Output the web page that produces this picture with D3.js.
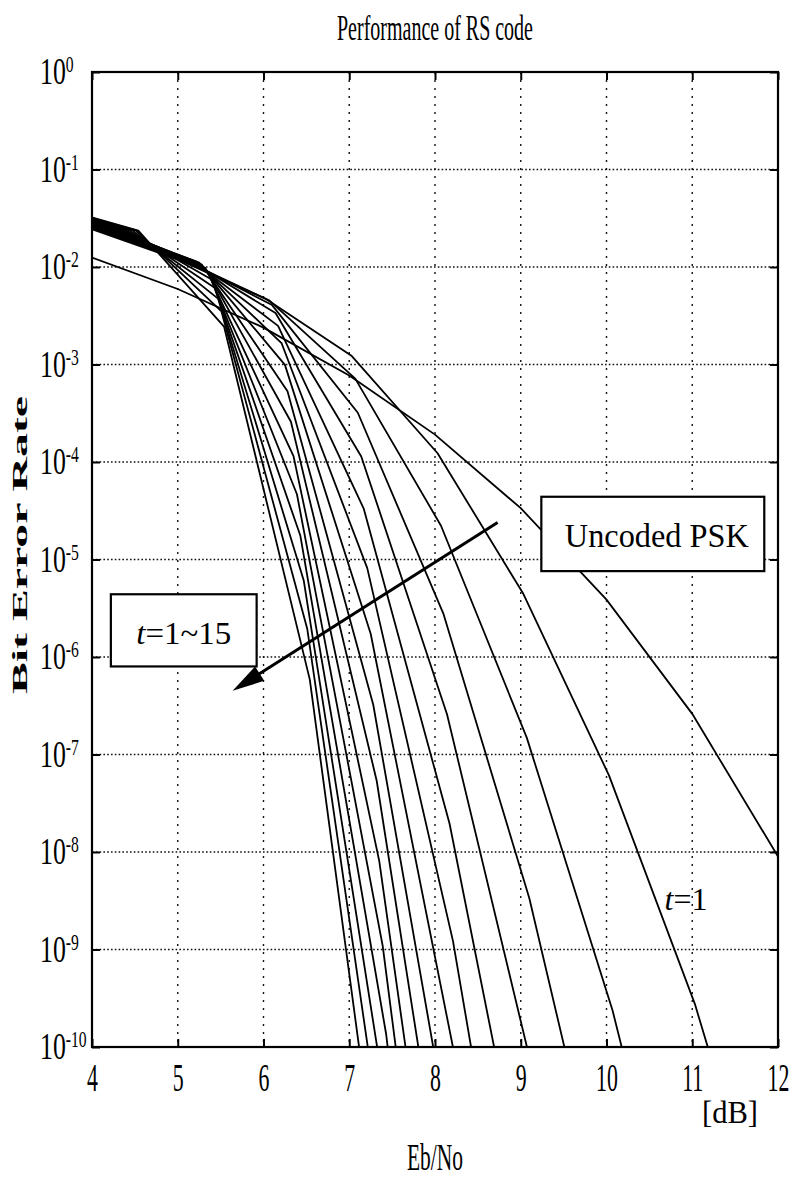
<!DOCTYPE html>
<html><head><meta charset="utf-8">
<script src="https://cdn.jsdelivr.net/npm/d3@7"></script>
<style>body{margin:0;background:#fff}</style>
</head><body>
<svg id="chart" width="793" height="1177"></svg>
<script>
// ---- data ----
const xTickValues = [4, 5, 6, 7, 8, 9, 10, 11, 12];
const yTickExponents = [0, -1, -2, -3, -4, -5, -6, -7, -8, -9, -10];

const uncodedEbNo = [4, 5, 6, 7, 8, 9, 10, 11, 12];
const uncodedBer  = [1.25e-2, 5.95e-3, 2.39e-3, 7.73e-4, 1.91e-4, 3.36e-5, 3.87e-6, 2.61e-7, 9.0e-9];

const rsT = [1, 2, 3, 4, 5, 6, 7, 8, 9, 10, 11, 12, 13, 14, 15];
const rsEbNo = [
  [3.03, 4.03, 5.03, 6.03, 7.03, 8.03, 9.03, 10.03, 11.03, 12.03],
  [3.07, 4.07, 5.07, 6.07, 7.07, 8.07, 9.07, 10.07, 11.07],
  [3.10, 4.10, 5.10, 6.10, 7.10, 8.10, 9.10, 10.10],
  [3.14, 4.14, 5.14, 6.14, 7.14, 8.14, 9.14],
  [3.17, 4.17, 5.17, 6.17, 7.17, 8.17, 9.17],
  [3.21, 4.21, 5.21, 6.21, 7.21, 8.21, 9.21],
  [3.25, 4.25, 5.25, 6.25, 7.25, 8.25],
  [3.28, 4.28, 5.28, 6.28, 7.28, 8.28],
  [3.32, 4.32, 5.32, 6.32, 7.32, 8.32],
  [3.35, 4.35, 5.35, 6.35, 7.35, 8.35],
  [3.39, 4.39, 5.39, 6.39, 7.39, 8.39],
  [3.43, 4.43, 5.43, 6.43, 7.43, 8.43],
  [3.47, 4.47, 5.47, 6.47, 7.47],
  [3.51, 4.51, 5.51, 6.51, 7.51],
  [3.54, 4.54, 5.54, 6.54, 7.54]
];
const rsBer = [
  [4.20e-2, 2.39e-2, 1.17e-2, 4.70e-3, 1.22e-3, 1.23e-4, 4.45e-6, 6.07e-8, 2.77e-10, 3.29e-13],
  [4.20e-2, 2.39e-2, 1.17e-2, 4.52e-3, 7.16e-4, 2.22e-5, 1.49e-7, 2.38e-10, 7.33e-14],
  [4.20e-2, 2.39e-2, 1.17e-2, 4.07e-3, 3.20e-4, 2.75e-6, 3.36e-9, 6.18e-13],
  [4.20e-2, 2.39e-2, 1.16e-2, 3.37e-3, 1.14e-4, 2.59e-7, 5.65e-11],
  [4.20e-2, 2.39e-2, 1.16e-2, 2.49e-3, 3.30e-5, 1.95e-8, 7.59e-13],
  [4.20e-2, 2.39e-2, 1.14e-2, 1.66e-3, 8.15e-6, 1.22e-9, 8.45e-15],
  [4.20e-2, 2.39e-2, 1.11e-2, 9.91e-4, 1.73e-6, 6.59e-11],
  [4.20e-2, 2.39e-2, 1.06e-2, 5.32e-4, 3.24e-7, 3.09e-12],
  [4.20e-2, 2.39e-2, 9.82e-3, 2.59e-4, 5.38e-8, 1.29e-13],
  [4.20e-2, 2.39e-2, 8.75e-3, 1.15e-4, 8.05e-9, 4.80e-15],
  [4.20e-2, 2.39e-2, 7.48e-3, 4.67e-5, 1.09e-9, 1.62e-16],
  [4.20e-2, 2.39e-2, 6.11e-3, 1.75e-5, 1.36e-10, 5.00e-18],
  [4.20e-2, 2.39e-2, 4.74e-3, 6.05e-6, 1.55e-11],
  [4.20e-2, 2.38e-2, 3.50e-3, 1.95e-6, 1.64e-12],
  [4.20e-2, 2.36e-2, 2.45e-3, 5.86e-7, 1.62e-13]
];

// annotation anchors in data coordinates
const arrowFrom = [8.73, 2.4e-5];
const arrowTo   = [5.64, 4.5e-7];
const uncodedBox = {x0: 9.24, x1: 11.84, y0: 4.4e-5, y1: 7.6e-6};
const tRangeBox  = {x0: 4.22, x1: 5.92, y0: 4.4e-6, y1: 8.0e-7};

// ---- layout ----
const svg = d3.select('#chart');
const L = 92, R = 778, T = 72, B = 1047;
const x = d3.scaleLinear().domain([4, 12]).range([L, R]);
const y = d3.scaleLog().domain([1, 1e-10]).range([T, B]);
const yTickValues = yTickExponents.map(e => Math.pow(10, e));
const serif = "'Liberation Serif','Times New Roman',serif";

svg.append('rect').attr('width', 793).attr('height', 1177).attr('fill', '#fff');

svg.append('clipPath').attr('id', 'plotclip')
  .append('rect').attr('x', L).attr('y', T).attr('width', R - L).attr('height', B - T);

// grid
const grid = svg.append('g');
grid.selectAll('line.h').data(yTickValues.slice(1, -1)).join('line')
  .attr('x1', L).attr('x2', R).attr('y1', d => y(d)).attr('y2', d => y(d))
  .attr('stroke', '#111').attr('stroke-width', 1.3).attr('stroke-dasharray', '1.6,2.2');
grid.selectAll('line.v').data(xTickValues.slice(1, -1)).join('line')
  .attr('y1', T).attr('y2', B).attr('x1', d => x(d)).attr('x2', d => x(d))
  .attr('stroke', '#111').attr('stroke-width', 1.4).attr('stroke-dasharray', '2,6');

// curves
const plot = svg.append('g').attr('clip-path', 'url(#plotclip)');
const line = d3.line().x(d => x(d[0])).y(d => y(d[1]));
rsT.forEach((t, i) => {
  const pts = rsEbNo[i].map((e, j) => [e, rsBer[i][j]]);
  plot.append('path').attr('d', line(pts)).attr('fill', 'none')
    .attr('stroke', '#000').attr('stroke-width', 1.8).attr('stroke-linejoin', 'round');
});
plot.append('path').attr('d', line(uncodedEbNo.map((e, j) => [e, uncodedBer[j]])))
  .attr('fill', 'none').attr('stroke', '#000').attr('stroke-width', 1.8);

// axes (inward ticks on all four sides)
const tick = 8;
svg.append('g').attr('transform', `translate(0,${B})`)
  .call(d3.axisBottom(x).tickValues(xTickValues).tickSize(-tick).tickFormat(d3.format('d')).tickPadding(14))
  .call(g => { g.select('.domain').remove();
    g.selectAll('.tick line').attr('stroke', '#000').attr('stroke-width', 2);
    g.selectAll('.tick text').attr('font-family', serif).attr('font-size', 39).attr('fill', '#000')
      .attr('dy', 0).attr('y', 44).attr('transform', 'scale(0.56,1)'); });
svg.append('g').attr('transform', `translate(0,${T})`)
  .call(d3.axisTop(x).tickValues(xTickValues).tickSize(-tick).tickFormat(''))
  .call(g => { g.select('.domain').remove(); g.selectAll('.tick line').attr('stroke', '#000').attr('stroke-width', 2); });
svg.append('g').attr('transform', `translate(${L},0)`)
  .call(d3.axisLeft(y).tickValues(yTickValues).tickSize(-tick).tickFormat(''))
  .call(g => { g.select('.domain').remove(); g.selectAll('.tick line').attr('stroke', '#000').attr('stroke-width', 2); });
svg.append('g').attr('transform', `translate(${R},0)`)
  .call(d3.axisRight(y).tickValues(yTickValues).tickSize(-tick).tickFormat(''))
  .call(g => { g.select('.domain').remove(); g.selectAll('.tick line').attr('stroke', '#000').attr('stroke-width', 2); });

svg.append('rect').attr('x', L).attr('y', T).attr('width', R - L).attr('height', B - T)
  .attr('fill', 'none').attr('stroke', '#000').attr('stroke-width', 2.2);

// y tick labels 10^n
yTickExponents.forEach(e => {
  const yy = y(Math.pow(10, e));
  const g = svg.append('g').attr('transform', `translate(40,${yy}) scale(0.68,1)`);
  g.append('text').attr('x', 0).attr('y', 12).text('10')
    .attr('font-family', serif).attr('font-size', 38).attr('fill', '#000');
  g.append('text').attr('x', 38).attr('y', 0).text(e === 0 ? '0' : '-' + Math.abs(e))
    .attr('font-family', serif).attr('font-size', 23).attr('fill', '#000');
});

// text helper
function label(s, cx, cy, size, len, opts = {}) {
  const t = svg.append('text').attr('x', cx).attr('y', cy).text(s)
    .attr('font-family', serif).attr('font-size', size).attr('fill', '#000')
    .attr('text-anchor', opts.anchor || 'middle')
    .attr('textLength', len).attr('lengthAdjust', 'spacingAndGlyphs');
  if (opts.weight) t.attr('font-weight', opts.weight);
  if (opts.rotate) t.attr('transform', `rotate(${opts.rotate},${cx},${cy})`);
  return t;
}

label('Performance of RS code', 435, 40, 35, 196);
label('Eb/No', 435, 1170, 37, 56);
label('[dB]', 730, 1123, 31, 56);
label('Bit Error Rate', 27, 545, 21, 298, {weight: 'bold', rotate: -90});

// boxes
function box(b) {
  const x0 = x(b.x0), x1 = x(b.x1), y0 = y(b.y0), y1 = y(b.y1);
  svg.append('rect').attr('x', x0).attr('y', y0).attr('width', x1 - x0).attr('height', y1 - y0)
    .attr('fill', '#fff').attr('stroke', '#000').attr('stroke-width', 2.2);
  return [x0, x1, y0, y1];
}
const ub = box(uncodedBox);
label('Uncoded PSK', (ub[0] + ub[1]) / 2 + 4, ub[2] + 50, 34, 184);

const tb = box(tRangeBox);
const tt = svg.append('text').attr('x', (tb[0] + tb[1]) / 2).attr('y', tb[2] + 50)
  .attr('font-family', serif).attr('font-size', 31).attr('fill', '#000').attr('text-anchor', 'middle')
  .attr('textLength', 95).attr('lengthAdjust', 'spacingAndGlyphs');
tt.append('tspan').attr('font-style', 'italic').text('t');
tt.append('tspan').text('=1~15');

// t=1 label
const t1 = svg.append('text').attr('x', 686).attr('y', 910)
  .attr('font-family', serif).attr('font-size', 31).attr('fill', '#000').attr('text-anchor', 'middle')
  .attr('textLength', 43).attr('lengthAdjust', 'spacingAndGlyphs');
t1.append('tspan').attr('font-style', 'italic').text('t');
t1.append('tspan').text('=1');

// arrow
const ax0 = x(arrowFrom[0]), ay0 = y(arrowFrom[1]), ax1 = x(arrowTo[0]), ay1 = y(arrowTo[1]);
const dx = ax1 - ax0, dy = ay1 - ay0, len = Math.hypot(dx, dy), ux = dx / len, uy = dy / len;
const headL = 32, headW = 8.5;
const bx = ax1 - ux * headL, by = ay1 - uy * headL;
svg.append('line').attr('x1', ax0).attr('y1', ay0).attr('x2', bx + ux * 4).attr('y2', by + uy * 4)
  .attr('stroke', '#000').attr('stroke-width', 3);
svg.append('polygon')
  .attr('points', [[ax1, ay1], [bx - uy * headW, by + ux * headW], [bx + uy * headW, by - ux * headW]].map(p => p.join(',')).join(' '))
  .attr('fill', '#000');
</script>
</body></html>
